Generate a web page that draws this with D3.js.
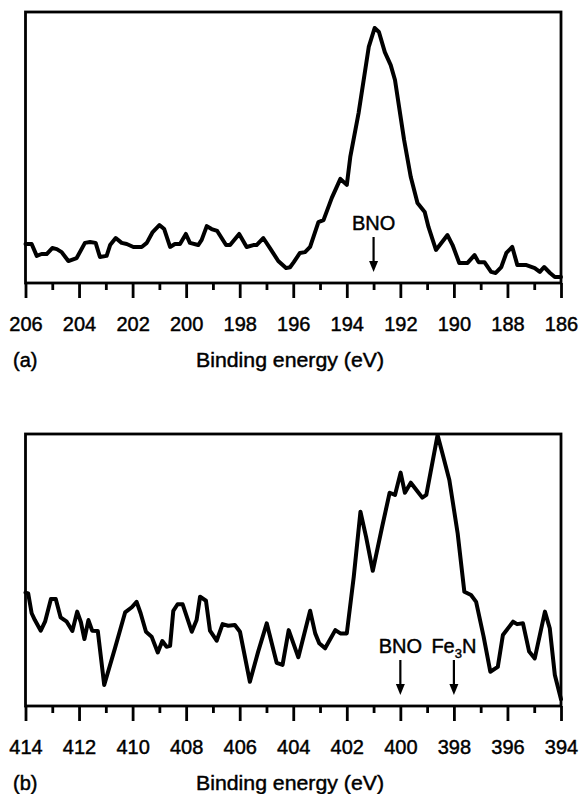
<!DOCTYPE html>
<html>
<head>
<meta charset="utf-8">
<script src="https://cdn.jsdelivr.net/npm/d3@7"></script>
<style>
  html, body { margin: 0; padding: 0; background: #fff; }
  svg { display: block; }
  text { font-family: "Liberation Sans", Arial, Helvetica, sans-serif; fill: #000; stroke: #000; stroke-width: 0.45px; }
</style>
</head>
<body>
<svg id="chart" width="579" height="794"></svg>
<script>
// (a) B 1s region
const energyA = [206.0, 205.77, 205.58, 205.40, 205.21, 205.00, 204.83, 204.65, 204.40, 204.09,
  203.78, 203.59, 203.38, 203.22, 202.97, 202.84, 202.63, 202.41, 202.22, 201.97,
  201.66, 201.47, 201.25, 201.00, 200.82, 200.60, 200.42, 200.23, 200.01, 199.86,
  199.55, 199.42, 199.23, 199.05, 198.84, 198.51, 198.36, 198.02, 197.74, 197.49,
  197.37, 197.12, 196.87, 196.56, 196.27, 196.12, 195.98, 195.75, 195.56, 195.37,
  195.06, 194.87, 194.56, 194.24, 194.00, 193.87, 193.56, 193.18, 192.96, 192.80,
  192.58, 192.36, 192.20, 191.86, 191.61, 191.36, 191.09, 190.95, 190.67, 190.24,
  190.05, 189.80, 189.49, 189.23, 189.08, 188.86, 188.61, 188.44, 188.23, 188.04,
  187.82, 187.63, 187.29, 186.98, 186.79, 186.63, 186.41, 186.23, 186.0];
const intensityA = [14.4, 14.4, 10.0, 10.7, 10.7, 12.9, 12.5, 11.4, 8.1, 9.2,
  14.8, 15.1, 14.8, 9.6, 10.0, 14.0, 16.6, 14.8, 14.4, 13.3,
  13.3, 14.8, 18.8, 21.4, 19.9, 13.3, 14.4, 14.4, 18.1, 14.8,
  14.0, 15.9, 21.0, 19.9, 19.2, 14.0, 14.0, 18.1, 13.3, 14.0,
  14.0, 16.6, 12.9, 8.1, 5.5, 5.8, 7.7, 11.1, 11.4, 13.3,
  22.5, 23.2, 31.4, 38.4, 36.2, 46.5, 62.7, 87.1, 94.1, 92.6,
  85.2, 80.4, 74.9, 52.8, 39.1, 29.5, 26.2, 20.7, 12.2, 17.7,
  14.0, 7.4, 7.4, 10.3, 7.7, 7.7, 4.1, 3.7, 5.9, 11.1,
  13.3, 6.6, 6.6, 5.5, 4.1, 5.9, 3.7, 2.2, 2.2];

// (b) N 1s region
const energyB = [414.0, 413.90, 413.77, 413.65, 413.43, 413.27, 413.05, 412.87, 412.69, 412.46,
  412.25, 412.07, 411.93, 411.80, 411.65, 411.51, 411.30, 411.06, 410.66, 410.28,
  410.03, 409.85, 409.70, 409.50, 409.29, 409.06, 408.89, 408.73, 408.60, 408.48,
  408.32, 408.13, 407.79, 407.61, 407.48, 407.26, 407.11, 406.86, 406.64, 406.43,
  406.18, 405.99, 405.62, 405.31, 404.99, 404.62, 404.40, 404.17, 403.81, 403.37,
  403.18, 403.03, 402.81, 402.43, 402.24, 402.00, 401.74, 401.49, 401.28, 401.03,
  400.68, 400.40, 400.20, 399.99, 399.83, 399.61, 399.40, 399.18, 399.03, 398.61,
  398.43, 398.17, 397.86, 397.61, 397.36, 397.17, 396.89, 396.64, 396.36, 396.17,
  395.79, 395.64, 395.42, 395.19, 394.98, 394.60, 394.42, 394.23, 394.0];
const intensityB = [41.7, 41.4, 34.1, 31.6, 27.7, 31.0, 39.3, 39.3, 32.6, 31.0,
  27.6, 34.7, 30.8, 24.6, 31.6, 27.7, 27.6, 7.7, 21.2, 34.4,
  36.3, 38.3, 34.1, 27.3, 25.5, 19.7, 23.9, 21.8, 22.1, 35.0,
  37.4, 37.4, 27.3, 31.6, 40.2, 38.7, 27.7, 24.0, 30.1, 29.5,
  29.8, 27.3, 8.9, 20.0, 30.4, 15.9, 15.1, 27.9, 17.9, 35.0,
  26.7, 23.1, 21.2, 27.9, 26.7, 26.7, 47.5, 71.4, 62.2, 49.7,
  65.9, 78.4, 77.6, 85.8, 78.4, 82.1, 79.4, 76.6, 77.6, 99.6,
  92.9, 83.1, 63.5, 42.0, 40.8, 38.3, 25.5, 12.6, 14.4, 26.1,
  31.0, 30.1, 30.4, 20.0, 17.5, 34.7, 28.6, 11.4, 2.5];

// Axis ticks and labels
const majorTicksA = [206, 204, 202, 200, 198, 196, 194, 192, 190, 188, 186];
const minorTicksA = [205, 203, 201, 199, 197, 195, 193, 191, 189, 187];
const majorTicksB = [414, 412, 410, 408, 406, 404, 402, 400, 398, 396, 394];
const minorTicksB = [413, 411, 409, 407, 405, 403, 401, 399, 397, 395];

// Reference peak positions
const markersA = [{ label: "BNO", energy: 193 }];
const markersB = [{ label: "BNO", energy: 400 }, { label: "Fe", sub: "3", tail: "N", energy: 398 }];

const axisTitle = "Binding energy (eV)";
const panelLetters = ["(a)", "(b)"];

const svg = d3.select("#chart");
const left = 25.5, right = 561;

const panels = [
  { energy: energyA, intensity: intensityA, domain: [206, 186], major: majorTicksA, minor: minorTicksA,
    markers: markersA, top: 12, bottom: 283, letter: panelLetters[0] },
  { energy: energyB, intensity: intensityB, domain: [414, 394], major: majorTicksB, minor: minorTicksB,
    markers: markersB, top: 434, bottom: 706, letter: panelLetters[1] }
];

panels.forEach(p => {
  const x = d3.scaleLinear().domain(p.domain).range([left, right]);
  const y = d3.scaleLinear().domain([0, 100]).range([p.bottom, p.top]);
  const g = svg.append("g");

  // spectrum trace
  const pts = p.energy.map((e, i) => [e, p.intensity[i]]);
  g.append("path")
    .datum(pts)
    .attr("fill", "none")
    .attr("stroke", "#000")
    .attr("stroke-width", 4)
    .attr("stroke-linejoin", "round")
    .attr("stroke-linecap", "round")
    .attr("d", d3.line().x(d => x(d[0])).y(d => y(d[1])));

  // frame
  g.append("rect")
    .attr("x", left).attr("y", p.top)
    .attr("width", right - left).attr("height", p.bottom - p.top)
    .attr("fill", "none").attr("stroke", "#000").attr("stroke-width", 2.8);

  // major ticks with labels
  const axMajor = g.append("g")
    .attr("transform", `translate(0,${p.bottom})`)
    .call(d3.axisBottom(x).tickValues(p.major).tickSize(15).tickPadding(19).tickFormat(d3.format("d")));
  axMajor.select(".domain").remove();
  axMajor.selectAll(".tick line").attr("stroke", "#000").attr("stroke-width", 2.8);
  axMajor.selectAll(".tick text")
    .attr("font-size", 20)
    .attr("font-family", '"Liberation Sans", Arial, Helvetica, sans-serif')
    .attr("fill", "#000");

  // minor ticks
  const axMinor = g.append("g")
    .attr("transform", `translate(0,${p.bottom})`)
    .call(d3.axisBottom(x).tickValues(p.minor).tickSize(7).tickFormat(""));
  axMinor.select(".domain").remove();
  axMinor.selectAll(".tick line").attr("stroke", "#000").attr("stroke-width", 2.8);

  // axis title and panel letter
  g.append("text")
    .attr("x", 290).attr("y", p.bottom + 84)
    .attr("text-anchor", "middle")
    .attr("font-size", 21)
    .attr("textLength", 188).attr("lengthAdjust", "spacingAndGlyphs")
    .text(axisTitle);
  g.append("text")
    .attr("x", 13).attr("y", p.bottom + 84)
    .attr("font-size", 20)
    .text(p.letter);

  // peak markers: label + downward arrow
  p.markers.forEach(m => {
    const mx = x(m.energy);
    const t = g.append("text")
      .attr("x", mx).attr("y", p.bottom - 53.5)
      .attr("text-anchor", "middle")
      .attr("font-size", 20);
    if (m.sub) {
      t.append("tspan").text(m.label);
      t.append("tspan").attr("font-size", 13).attr("dy", 5).text(m.sub);
      t.append("tspan").attr("dy", -5).text(m.tail);
    } else {
      t.text(m.label);
    }
    const y0 = p.bottom - 46, y1 = p.bottom - 11;
    g.append("line")
      .attr("x1", mx).attr("x2", mx)
      .attr("y1", y0).attr("y2", y1 - 8)
      .attr("stroke", "#000").attr("stroke-width", 2.2);
    g.append("path")
      .attr("d", `M${mx - 4.5},${y1 - 11} L${mx + 4.5},${y1 - 11} L${mx},${y1} Z`)
      .attr("fill", "#000");
  });
});
</script>
</body>
</html>
